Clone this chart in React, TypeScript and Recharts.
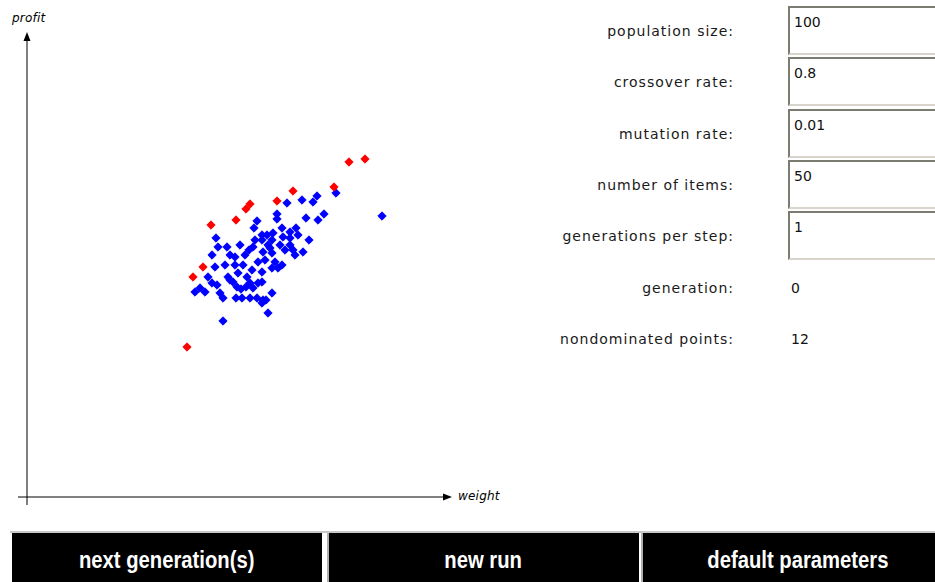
import React from 'react';
import {ReferenceDot, ReferenceLine, Scatter, ScatterChart, XAxis, YAxis} from 'recharts';

// points: weight to the right, profit upward from the origin
const frontWeight = [160, 166, 176, 184, 209, 219, 223, 250, 266, 307, 322, 338];
const frontProfit = [150, 220, 230, 272, 277, 288, 293, 296, 306, 310, 335, 338];

const restWeight = [
  309, 355, 290, 286, 275, 260, 250, 250, 279, 291, 297, 230, 227, 235, 189, 191, 200, 213, 226,
  255, 263, 256, 246, 271, 282, 240, 245, 263, 266, 243, 276, 235, 185, 208, 218, 222, 188, 208,
  201, 211, 220, 206, 210, 214, 219, 223, 185, 173, 178, 168, 193, 196, 215, 226, 231, 230, 235,
  196, 236, 245, 238, 248, 255, 245, 251, 268, 235, 235, 245, 236, 241, 258, 231, 216, 198, 203,
  225, 241, 253, 269, 228, 181, 190, 223, 209, 239, 203, 263,
];
const restProfit = [
  304, 281, 301, 295, 297, 294, 283, 278, 279, 277, 283, 276, 269, 262, 259, 250, 250, 252, 250,
  269, 265, 260, 264, 262, 257, 262, 257, 252, 247, 249, 245, 257, 242, 240, 242, 247, 230, 232,
  220, 224, 220, 215, 210, 208, 210, 214, 214, 209, 205, 205, 204, 199, 199, 209, 214, 199, 194,
  176, 245, 244, 237, 235, 232, 229, 229, 242, 225, 215, 204, 197, 184, 247, 235, 232, 232, 217,
  227, 252, 252, 269, 257, 220, 212, 199, 199, 197, 242, 259,
];

const formLabels = [
  'population size:',
  'crossover rate:',
  'mutation rate:',
  'number of items:',
  'generations per step:',
  'generation:',
  'nondominated points:',
];
const formValues = ['100', '0.8', '0.01', '50', '1', '0', '12'];
const editable = [true, true, true, true, true, false, false];

const buttonLabels = ['next generation(s)', 'new run', 'default parameters'];

const front = frontWeight.map((w, i) => ({weight: w, profit: frontProfit[i]}));
const rest = restWeight.map((w, i) => ({weight: w, profit: restProfit[i]}));

const Diamond = (props: any) => {
  const {cx, cy, fill} = props;
  const r = 4.2;
  return (
    <polygon
      points={`${cx},${cy - r} ${cx + r},${cy} ${cx},${cy + r} ${cx - r},${cy}`}
      fill={fill}
      stroke={fill}
      strokeWidth={0.9}
    />
  );
};

const ArrowRight = (props: any) => {
  const {cx, cy} = props;
  return <polygon points={`${cx - 9},${cy - 3.5} ${cx},${cy} ${cx - 9},${cy + 3.5}`} fill="#000" />;
};

const ArrowUp = (props: any) => {
  const {cx, cy} = props;
  return <polygon points={`${cx - 3.5},${cy + 9} ${cx},${cy} ${cx + 3.5},${cy + 9}`} fill="#000" />;
};

const labelFont = "'DejaVu Sans', Verdana, sans-serif";

const axisLabel: React.CSSProperties = {
  position: 'absolute',
  fontSize: 12,
  fontStyle: 'italic',
  fontFamily: "'DejaVu Sans', sans-serif",
  letterSpacing: 0.2,
  color: '#000',
};

export default function App() {
  return (
    <div
      style={{
        position: 'absolute',
        left: 0,
        top: 0,
        width: 935,
        height: 582,
        overflow: 'hidden',
        background: '#fff',
        fontFamily: labelFont,
      }}
    >
      <div style={{position: 'absolute', left: 0, top: 0}}>
        <ScatterChart width={520} height={520} margin={{top: 0, right: 0, bottom: 0, left: 0}}>
          <XAxis type="number" dataKey="weight" domain={[-27, 493]} hide />
          <YAxis type="number" dataKey="profit" domain={[-23, 497]} hide />
          <ReferenceLine
            segment={[
              {x: -9, y: 0},
              {x: 420, y: 0},
            ]}
            stroke="#000"
            strokeWidth={1}
          />
          <ReferenceLine
            segment={[
              {x: 0, y: -8},
              {x: 0, y: 460},
            ]}
            stroke="#000"
            strokeWidth={1}
          />
          <ReferenceDot x={425} y={0} r={0} shape={<ArrowRight />} />
          <ReferenceDot x={0} y={465} r={0} shape={<ArrowUp />} />
          <Scatter data={rest} fill="#0000ff" shape={<Diamond />} isAnimationActive={false} />
          <Scatter data={front} fill="#ff0000" shape={<Diamond />} isAnimationActive={false} />
        </ScatterChart>
      </div>

      <div style={{...axisLabel, left: 12, top: 11}}>profit</div>
      <div style={{...axisLabel, left: 458, top: 489}}>weight</div>

      {formLabels.map((label, i) => {
        const cy = 31 + i * 51.3;
        return (
          <React.Fragment key={label}>
            <div
              style={{
                position: 'absolute',
                right: 935 - 734,
                top: cy - 8,
                fontSize: 14,
                letterSpacing: 1,
                lineHeight: '16px',
                color: '#1a1a1a',
                whiteSpace: 'nowrap',
              }}
            >
              {label}
            </div>
            {editable[i] ? (
              <div
                style={{
                  position: 'absolute',
                  left: 788,
                  top: cy - 25,
                  width: 200,
                  height: 39,
                  borderTop: '2px solid #7c7c72',
                  borderLeft: '2px solid #7c7c72',
                  borderBottom: '2px solid #d8d4cc',
                  borderRight: '2px solid #d8d4cc',
                  fontSize: 14,
                  lineHeight: '16px',
                  paddingLeft: 4,
                  paddingTop: 6,
                  color: '#111',
                  boxSizing: 'content-box',
                }}
              >
                {formValues[i]}
              </div>
            ) : (
              <div
                style={{
                  position: 'absolute',
                  left: 791,
                  top: cy - 8,
                  fontSize: 14,
                  lineHeight: '16px',
                  color: '#111',
                }}
              >
                {formValues[i]}
              </div>
            )}
          </React.Fragment>
        );
      })}

      <div
        style={{position: 'absolute', left: 10, top: 531, width: 925, height: 2, background: '#c8c8c8'}}
      />
      {buttonLabels.map((label, i) => {
        const left = 12 + i * 314.5;
        return (
          <div
            key={label}
            style={{
              position: 'absolute',
              left,
              top: 533,
              width: 310,
              height: 60,
              background: '#000',
              color: '#fff',
              fontFamily: "'Liberation Sans', Arial, sans-serif",
              fontWeight: 'bold',
              fontSize: 23,
              textAlign: 'center',
              lineHeight: '54px',
              borderLeft: i > 0 ? '2px solid #b0b0b0' : 'none',
            }}
          >
            <span style={{display: 'inline-block', transform: 'scaleX(0.88)'}}>{label}</span>
          </div>
        );
      })}
    </div>
  );
}
